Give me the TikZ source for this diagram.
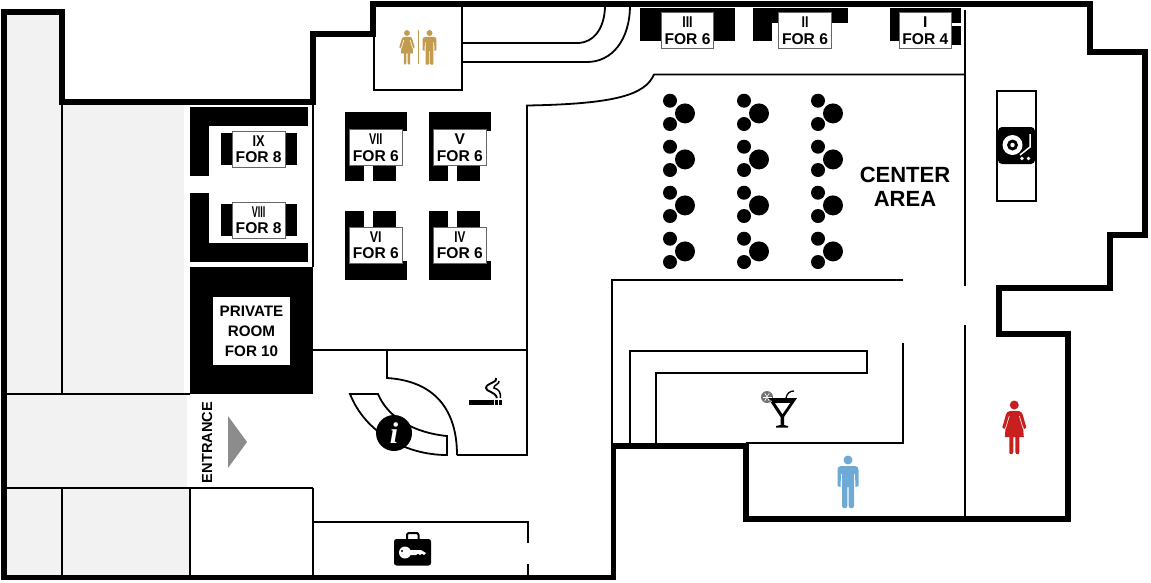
\documentclass[tikz,border=0pt]{standalone}
\usepackage{fontspec}
\setmainfont{Liberation Sans}
\newfontfamily\infofont{Liberation Serif}
\definecolor{goldfig}{HTML}{C39B4E}
\definecolor{redfig}{HTML}{C8201F}
\definecolor{bluefig}{HTML}{6FAAD6}
\tikzset{
  x=1pt,y=-1pt,
  wall/.style={line width=5.8pt,black,line join=miter},
  mid wall/.style={line width=1.8pt,black},
  blk/.style={fill=black,draw=none},
  tag/.style={draw=black!60,line width=.7pt,fill=white,inner sep=0pt,minimum width=52.5pt,minimum height=36pt,font=\bfseries\fontsize{15.6}{16.5}\selectfont,align=center},
  lbl/.style={font=\bfseries\fontsize{22}{24}\selectfont,align=center,inner sep=0pt},
  stool/.style={fill=black,draw=none},
  pics/womanfig/.style={code={
    \fill[#1] (0,0) circle (4.5);
    \fill[#1] (-4.5,6) -- (4.5,6) .. controls (7,6.5) and (8,8) .. (8.5,10) -- (12,22.5) -- (10,24) -- (8.6,21) -- (9.5,32) -- (5,32) -- (5,47) -- (4.5,49) -- (2,49) -- (1,47) -- (1,32) -- (-1,32) -- (-1,47) -- (-2,49) -- (-4.5,49) -- (-5,47) -- (-5,32) -- (-9.5,32) -- (-8.6,21) -- (-10,24) -- (-12,22.5) -- (-8.5,10) .. controls (-8,8) and (-7,6.5) .. (-4.5,6) -- cycle;
    \draw[white,line width=.6pt] (5,11) -- (8.8,23.5);
    \draw[white,line width=.6pt] (-5,11) -- (-8.8,23.5);
  }},
  pics/manfig/.style={code={
    \fill[#1] (0,0) circle (4.5);
    \fill[#1] (-7,6) -- (7,6) .. controls (9.5,6) and (10.5,8) .. (10.5,10) -- (10.5,26) -- (7.5,27) -- (7,14) -- (6,14) -- (6,46) -- (5,48) -- (1.7,48) -- (.6,46) -- (.6,27) -- (-.6,27) -- (-.6,46) -- (-1.7,48) -- (-5,48) -- (-6,46) -- (-6,14) -- (-7,14) -- (-7.5,27) -- (-10.5,26) -- (-10.5,10) .. controls (-10.5,8) and (-9.5,6) .. (-7,6) -- cycle;
  }},
  pics/stoolset/.style={code={
    \fill[stool] (15,12.7) circle (10);
    \fill[stool] (0,0) circle (7);
    \fill[stool] (0,23.3) circle (7);
  }},
}
\begin{document}
\begin{tikzpicture}
\useasboundingbox (0,0) rectangle (1151,582);
\fill[white] (0,0) rectangle (1151,582);
% grey floor
\fill[black!5] (5,13) rectangle (62,394);
\fill[black!5] (62,103) rectangle (184,394);
\fill[black!5] (5,394) rectangle (187,488);
\fill[black!5] (5,488) rectangle (190,575);
% thin dividers left
\draw[mid wall] (62,101) -- (62,394);
\draw[mid wall] (62,488) -- (62,577);
\draw[mid wall] (3,394) -- (190,394);
\draw[mid wall] (3,488) -- (313,488);
\draw[mid wall] (190,488) -- (190,577);
\draw[mid wall] (313,101) -- (313,267);
\draw[mid wall] (313,350) -- (527,350);
\draw[mid wall] (313,488) -- (313,577);
\draw[mid wall] (313,522) -- (528,522) -- (528,543);
\draw[mid wall] (528,564) -- (528,577);
% booth VIII IX
\fill[blk] (190,107) rectangle (308,126);
\fill[blk] (190,107) rectangle (209,176);
\fill[blk] (190,193) rectangle (209,262);
\fill[blk] (190,243) rectangle (308,262);
\fill[blk] (220.7,133) rectangle (297,165);
\fill[blk] (220.7,204) rectangle (297,236);
\node[tag] (t9) at (258.7,149) {\scalebox{.82}[1]{IX}\\FOR 8};
\node[tag] (t8) at (258.7,220) {\scalebox{.58}[1]{VIII}\\FOR 8};
% private room
\fill[blk] (190,267) rectangle (313,394);
\node[fill=white,inner sep=0pt,minimum width=77pt,minimum height=68pt] (pbox) at (251.5,331) {};
\node[font=\bfseries\fontsize{15.2}{20}\selectfont,align=center,inner sep=0pt] (pt) at (pbox.center) {PRIVATE\\ROOM\\FOR 10};
% tables
\foreach \dx/\n/\r/\s in {0/t7/VII/.7,84/t5/V/1}{
  \begin{scope}[xshift=\dx pt]
    \fill[blk] (345,112) rectangle (407,131);
    \fill[blk] (345,112) rectangle (364,181);
    \fill[blk] (373,160) rectangle (396,181);
    \node[tag] (\n) at (375.8,147.5) {\scalebox{\s}[1]{\r}\\FOR 6};
  \end{scope}
}
\foreach \dx/\n/\r/\s in {0/t6/VI/.8,84/t4/IV/.75}{
  \begin{scope}[xshift=\dx pt]
    \fill[blk] (345,261) rectangle (407,280);
    \fill[blk] (345,211) rectangle (364,280);
    \fill[blk] (373,211) rectangle (396,235);
    \node[tag] (\n) at (375.8,245.2) {\scalebox{\s}[1]{\r}\\FOR 6};
  \end{scope}
}
% top booths
\fill[blk] (640,8) rectangle (735,41);
\fill[blk] (753,8) rectangle (848,23);
\fill[blk] (753,8) rectangle (772,41);
\fill[blk] (890,8) rectangle (961,23);
\fill[blk] (890,8) rectangle (905,41);
\fill[blk] (945,26) rectangle (961,45);
\node[tag] (t3) at (687.5,30.5) {\scalebox{.8}[1]{III}\\FOR 6};
\node[tag] (t2) at (805,30.5) {\scalebox{.8}[1]{II}\\FOR 6};
\node[tag] (t1) at (925.3,30.5) {I\\FOR 4};
% central lines
\draw[mid wall] (965,10) -- (965,286);
\draw[mid wall] (965,325) -- (965,519);
\draw[mid wall] (965,74.5) -- (654,74.5) .. controls (645,95) and (615,104) .. (527,105.5) -- (527,455) -- (457,455);
\draw[mid wall] (387,350) -- (387,378) .. controls (435,381) and (457,410) .. (457,455);
\draw[mid wall] (612,445) -- (612,280) -- (903,280);
\draw[mid wall] (746,443) -- (903,443) -- (903,343);
\draw[mid wall] (630,445) -- (630,351) -- (867,351) -- (867,373) -- (656,373) -- (656,445);
% restroom
\draw[mid wall] (374,5) rectangle (462,90);
\draw[mid wall] (462,43) -- (577,43) .. controls (594,43) and (605,28) .. (605,5);
\draw[mid wall] (462,62) -- (587,62) .. controls (612,62) and (630,40) .. (630,5);
\pic[scale=.64] at (407,33) {womanfig=goldfig};
\pic[scale=.66] at (429.5,33) {manfig=goldfig};
\fill[goldfig] (417.5,30) rectangle (419,64);
% outer wall
\draw[wall] (3.8,577.5) -- (3.8,12) -- (61.7,12) -- (61.7,102) -- (313,102) -- (313,34) -- (373,34) -- (373,3.8) -- (1090,3.8) -- (1090,52) -- (1145,52) -- (1145,235) -- (1110,235) -- (1110,288) -- (999,288) -- (999,334) -- (1068,334) -- (1068,519) -- (746,519) -- (746,446) -- (613.5,446) -- (613.5,577.5) -- cycle;
% entrance
\fill[black!45] (228,416) -- (247,442) -- (228,468) -- cycle;
\node[rotate=90,font=\bfseries\fontsize{14.6}{15}\selectfont,inner sep=0pt] (ent) at (207,442.5) {ENTRANCE};
% centre label
\node[lbl] (ca) at (905,186.5) {CENTER\\AREA};
% stools
\foreach \cx in {670,744,818}{\foreach \cy in {100.7,146.7,192.7,238.7}{\pic at (\cx,\cy) {stoolset};}}
% info desk
\draw[mid wall,line join=miter] (350,394) -- (378,394) .. controls (388,418) and (415,433) .. (447,436) -- (447,455) .. controls (405,455) and (365,432) .. (350,394) -- cycle;
\fill[black] (394,433) circle (18);
\node[text=white,font=\infofont\bfseries\itshape\fontsize{30}{30}\selectfont,inner sep=0pt] (info) at (394,433) {i};
% smoking
\fill[black] (469,400) rectangle (494,405);
\fill[black] (495,400) rectangle (497.5,405);
\fill[black] (499,400) rectangle (502,405);
\draw[black,line width=1.9pt] (496,378) .. controls (499,382) and (486,383) .. (486,388) .. controls (486,392) and (495,391) .. (497,398);
\draw[black,line width=1.5pt] (499,381) .. controls (500,384) and (493,385) .. (494,388) .. controls (499,389) and (501,393) .. (500.5,398);
% key case
\draw[black,line width=2pt,rounded corners=2pt] (407,539) -- (407,533) -- (418.5,533) -- (418.5,539);
\fill[black,rounded corners=2.5pt] (394,539) rectangle (431,565.5);
\fill[white] (405,552.5) circle (6);
\fill[white] (409,550) -- (421,550) -- (426,553) -- (424,555) -- (422,553.7) -- (420,555) -- (418,553.7) -- (416,555) -- (409,555) -- cycle;
\fill[black] (402,551) circle (1.2);
% turntable
\draw[line width=2pt] (997,91) rectangle (1036,201);
\fill[black,rounded corners=4pt] (998,127) rectangle (1035,164);
\fill[white] (1012.5,145) circle (10);
\fill[black] (1012.5,145) circle (5.5);
\fill[white] (1012.5,145) circle (2.2);
\draw[white,line width=1.5pt] (1030,134) -- (1030,147) -- (1020,155);
\fill[white] (1022,158.5) circle (1.8);
\fill[white] (1028.5,158.5) circle (1.8);
% cocktail
\fill[black] (768,398) -- (797,398) -- (784,417) -- (784,425) -- (788,426) -- (788,427.5) -- (776,427.5) -- (776,426) -- (780.5,425) -- (780.5,417) -- cycle;
\fill[white] (775,403) -- (790,403) -- (782.5,414) -- cycle;
\draw[black,line width=1.3pt] (786,398) .. controls (787,393) and (790,391) .. (794,391);
\fill[white] (767,397) circle (6.5);
\fill[black!55] (767,397) circle (6);
\foreach \a in {0,60,...,300}{\draw[white,line width=.6pt] (767,397) -- ++(\a:4.5);}
\fill[black] (768,398) -- (776,398) -- (778,403) -- (775,403) -- cycle;
% people
\pic at (1014.3,405) {womanfig=redfig};
\pic at (848,460) {manfig=bluefig};
\end{tikzpicture}
\end{document}
